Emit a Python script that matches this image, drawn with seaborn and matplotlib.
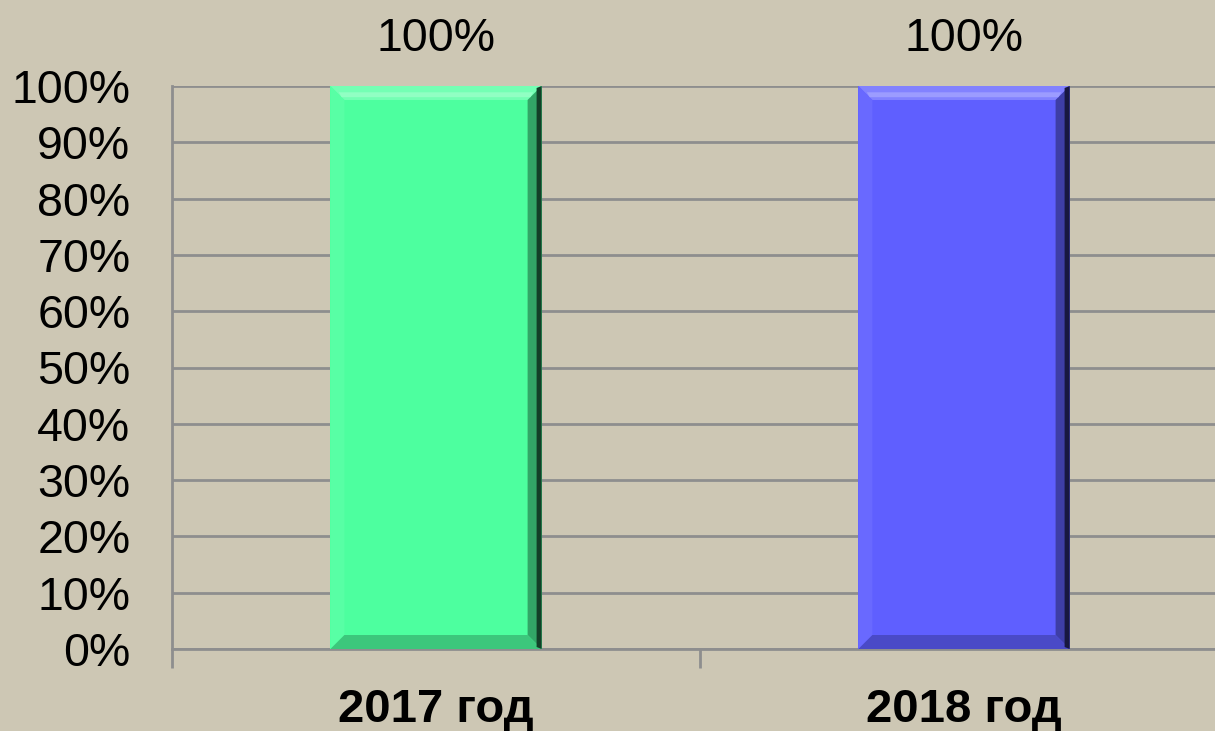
import matplotlib
matplotlib.use("Agg")
import matplotlib.pyplot as plt
import seaborn as sns
import pandas as pd
import numpy as np
from matplotlib.patches import Polygon
from matplotlib.colors import to_rgb

categories = ["2017 год", "2018 год"]
values = [100, 100]
bar_colors = ["#4dff9f", "#5f5fff"]
y_ticks = [0, 10, 20, 30, 40, 50, 60, 70, 80, 90, 100]

sns.set_theme(style="white")
plt.rcParams["font.family"] = ["Liberation Sans", "DejaVu Sans"]

BG = "#cdc7b4"
GRID = "#8e8e8e"

fig = plt.figure(figsize=(12.15, 7.31), dpi=100, facecolor=BG)
ax = fig.add_axes([172 / 1215, 82 / 731, 1056 / 1215, 563 / 731])
ax.set_facecolor(BG)

df = pd.DataFrame({"cat": categories, "val": values})
sns.barplot(data=df, x="cat", y="val", hue="cat", palette=bar_colors,
            width=0.4, legend=False, ax=ax, saturation=1, zorder=3,
            edgecolor="none", linewidth=0)

ax.set_xlim(-0.5, 1.5)
ax.set_ylim(0, 100)
ax.set_yticks(y_ticks)
ax.set_yticklabels([f"{t}%" for t in y_ticks], fontsize=33.5)
ax.yaxis.grid(True, color=GRID, linewidth=2, zorder=0)
ax.set_axisbelow(True)
ax.tick_params(axis="y", length=14, width=2, color=GRID, pad=16, labelcolor="black")

ax.set_xticks([0, 1])
ax.set_xticklabels(categories, fontsize=34, fontweight="bold")
ax.tick_params(axis="x", which="major", length=0, pad=28, labelcolor="black")
ax.set_xticks([-0.5, 0.5, 1.5], minor=True)
ax.tick_params(axis="x", which="minor", length=14, width=2, color=GRID, bottom=True)
ax.set_xlabel("")
ax.set_ylabel("")

for s in ["top", "right"]:
    ax.spines[s].set_visible(False)
for s in ["left", "bottom"]:
    ax.spines[s].set_color(GRID)
    ax.spines[s].set_linewidth(2)

for c in ax.containers:
    ax.bar_label(c, labels=[f"{v:.0f}%" for v in c.datavalues], padding=18,
                 fontsize=33.5, color="black")

# bevel effect derived from bar geometry
fig.canvas.draw()
inv = ax.transData.inverted()
b = 14
def mix(c, t, amt):
    c = np.array(to_rgb(c)); t = np.array(to_rgb(t))
    return tuple(c * (1 - amt) + t * amt)

for p in ax.patches:
    fc = p.get_facecolor()
    bb = p.get_window_extent()
    x0, y0, x1, y1 = bb.x0, bb.y0, bb.x1, bb.y1
    polys = [
        ([(x0, y1), (x1, y1), (x1 - b, y1 - b), (x0 + b, y1 - b)], mix(fc, "white", 0.22)),
        ([(x0, y1), (x0 + b, y1 - b), (x0 + b, y0 + b), (x0, y0)], mix(fc, "white", 0.06)),
        ([(x1, y1), (x1, y0), (x1 - b, y0 + b), (x1 - b, y1 - b)], mix(fc, "black", 0.35)),
        ([(x0, y0), (x1, y0), (x1 - b, y0 + b), (x0 + b, y0 + b)], mix(fc, "black", 0.22)),
    ]
    for pts, col in polys:
        ax.add_patch(Polygon(inv.transform(pts), closed=True, facecolor=col,
                             edgecolor="none", zorder=4))
    # highlight line in top bevel
    hl = [(x0 + b * 0.6, y1 - b * 0.45), (x1 - b * 0.6, y1 - b * 0.45),
          (x1 - b * 0.8, y1 - b * 0.8), (x0 + b * 0.8, y1 - b * 0.8)]
    ax.add_patch(Polygon(inv.transform(hl), closed=True,
                         facecolor=mix(fc, "white", 0.38), edgecolor="none", zorder=5))
    # darker outer edge on right
    edge = [(x1 - 5, y1 - 2), (x1, y1), (x1, y0), (x1 - 5, y0 + 2)]
    ax.add_patch(Polygon(inv.transform(edge), closed=True,
                         facecolor=mix(fc, "black", 0.75), edgecolor="none", zorder=5))

fig.savefig("out.png", dpi=100, facecolor=BG)
